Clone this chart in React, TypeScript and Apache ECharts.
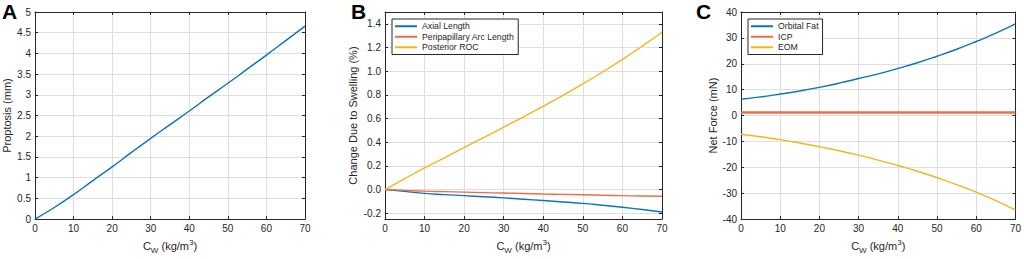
import React, { useEffect, useRef } from "react";
import * as echarts from "echarts";

const cw = [0, 5, 10, 15, 20, 25, 30, 35, 40, 45, 50, 55, 60, 65, 70];
const proptosis = [0, 0.28, 0.59, 0.93, 1.26, 1.61, 1.95, 2.28, 2.61, 2.95, 3.28, 3.62, 3.96, 4.31, 4.66];

const axialLength = [0, -0.016, -0.033, -0.043, -0.052, -0.061, -0.071, -0.082, -0.093, -0.105, -0.117, -0.133, -0.15, -0.169, -0.19];
const peripapillary = [0, -0.007, -0.014, -0.018, -0.022, -0.026, -0.03, -0.034, -0.038, -0.041, -0.044, -0.048, -0.052, -0.055, -0.057];
const posteriorROC = [0, 0.092, 0.183, 0.268, 0.355, 0.44, 0.527, 0.614, 0.704, 0.796, 0.892, 0.993, 1.1, 1.212, 1.329];

const orbitalFat = [6.3, 7.2, 8.3, 9.5, 10.9, 12.5, 14.3, 16.1, 18.2, 20.4, 22.9, 25.6, 28.6, 31.8, 35.4];
const icp = [1.2, 1.2, 1.2, 1.2, 1.2, 1.2, 1.2, 1.2, 1.2, 1.2, 1.2, 1.2, 1.2, 1.2, 1.2];
const eom = [-7.2, -8.2, -9.3, -10.6, -12.0, -13.6, -15.3, -17.2, -19.3, -21.5, -24.0, -26.7, -29.6, -32.9, -36.5];

const bTicks = [-0.2, 0, 0.2, 0.4, 0.6, 0.8, 1.0, 1.2, 1.4];

const pair = (ys: number[]) => cw.map((x, i) => [x, ys[i]]);

const AX = "#262626";
const GRIDC = "#dedede";
const FONT = "Liberation Sans, Arial, sans-serif";
const BLUE = "#0b74bd";
const RED = "#f06d45";
const YEL = "#f5b41c";

const axisLineStyle = { show: true, onZero: false, lineStyle: { color: AX, width: 1 } };

const xName = {
  name: "{n|C}{sub|W}{n| (kg/m}{sup|3}{n|)}",
  nameLocation: "middle" as const,
  nameGap: 11,
  nameTextStyle: {
    rich: {
      n: { fontSize: 11, fontFamily: FONT, color: AX, lineHeight: 16, verticalAlign: "middle" },
      sub: { fontSize: 8, fontFamily: FONT, color: AX, lineHeight: 16, verticalAlign: "bottom", padding: [6, 0, 0, 0] },
      sup: { fontSize: 8, fontFamily: FONT, color: AX, lineHeight: 16, verticalAlign: "top", padding: [0, 0, 6, 0] },
    },
  },
};

function mainX(gridIndex: number) {
  return {
    type: "value",
    gridIndex,
    min: 0,
    max: 70,
    interval: 10,
    ...xName,
    axisLine: axisLineStyle,
    axisTick: { show: true, inside: true, length: 3, lineStyle: { color: AX } },
    axisLabel: { color: AX, fontSize: 10, fontFamily: FONT, margin: 4 },
    splitLine: { show: true, lineStyle: { color: GRIDC, width: 1 } },
  };
}
function topX(gridIndex: number) {
  return {
    type: "value",
    gridIndex,
    position: "top",
    min: 0,
    max: 70,
    interval: 10,
    axisLine: axisLineStyle,
    axisTick: { show: true, inside: true, length: 3, lineStyle: { color: AX } },
    axisLabel: { show: false },
    splitLine: { show: false },
  };
}
function leftY(gridIndex: number, extra: any, name: string, nameGap: number) {
  return {
    type: "value",
    gridIndex,
    name,
    nameLocation: "middle",
    nameGap,
    nameTextStyle: { fontSize: 11, fontFamily: FONT, color: AX },
    min: extra.min,
    max: extra.max,
    interval: extra.interval,
    axisLine: axisLineStyle,
    axisTick: { show: true, inside: true, length: 3, lineStyle: { color: AX }, ...(extra.axisTickExtra || {}) },
    axisLabel: { color: AX, fontSize: 10, fontFamily: FONT, margin: 4, ...(extra.axisLabelExtra || {}) },
    splitLine: { show: true, lineStyle: { color: GRIDC, width: 1 } },
  };
}
function rightY(gridIndex: number, extra: any) {
  return {
    type: "value",
    gridIndex,
    position: "right",
    axisLine: axisLineStyle,
    axisTick: { show: true, inside: true, length: 3, lineStyle: { color: AX }, ...(extra.axisTickExtra || {}) },
    axisLabel: { show: false },
    splitLine: { show: false },
    min: extra.min,
    max: extra.max,
    interval: extra.interval,
  };
}

function line(name: string, data: number[], xi: number, yi: number, color: string, width = 1.4) {
  return {
    type: "line",
    name,
    xAxisIndex: xi,
    yAxisIndex: yi,
    data: pair(data),
    showSymbol: false,
    symbol: "none",
    smooth: true,
    lineStyle: { color, width },
    itemStyle: { color },
    z: 3,
  };
}

const legendBase = {
  orient: "vertical",
  icon: "rect",
  itemWidth: 22,
  itemHeight: 2,
  itemGap: 0,
  padding: [2, 4, 2, 3],
  borderColor: AX,
  borderWidth: 1,
  backgroundColor: "#fff",
  textStyle: { fontSize: 8.7, fontFamily: FONT, color: AX, lineHeight: 10.5 },
};

export default function App() {
  const ref = useRef<HTMLDivElement>(null);
  useEffect(() => {
    if (!ref.current) return;
    const chart = echarts.init(ref.current, undefined, { renderer: "svg" });
    const bExtra = {
      min: -0.25,
      max: 1.5,
      axisLabelExtra: { customValues: bTicks, formatter: (v: number) => v.toFixed(1) },
      axisTickExtra: { customValues: bTicks },
    };
    const option: any = {
      animation: false,
      backgroundColor: "#fff",
      grid: [
        { left: 29, top: 12, width: 276, height: 214 },
        { left: 385, top: 12, width: 277, height: 214 },
        { left: 741, top: 12, width: 277, height: 214 },
      ],
      xAxis: [mainX(0), topX(0), mainX(1), topX(1), mainX(2), topX(2)],
      yAxis: [
        leftY(0, { min: 0, max: 5, interval: 0.5 }, "Proptosis (mm)", 23),
        rightY(0, { min: 0, max: 5, interval: 0.5 }),
        leftY(1, bExtra, "Change Due to Swelling (%)", 27),
        rightY(1, bExtra),
        leftY(2, { min: -40, max: 40, interval: 10 }, "Net Force (mN)", 23),
        rightY(2, { min: -40, max: 40, interval: 10 }),
      ],
      legend: [
        {
          ...legendBase,
          left: 392,
          top: 19,
          data: ["Axial Length", "Peripapillary Arc Length", "Posterior ROC"],
        },
        {
          ...legendBase,
          left: 748,
          top: 19,
          data: ["Orbital Fat", "ICP", "EOM"],
        },
      ],
      series: [
        line("Proptosis", proptosis, 0, 0, BLUE),
        line("Axial Length", axialLength, 2, 2, BLUE),
        line("Peripapillary Arc Length", peripapillary, 2, 2, RED),
        line("Posterior ROC", posteriorROC, 2, 2, YEL),
        line("Orbital Fat", orbitalFat, 4, 4, BLUE),
        line("ICP", icp, 4, 4, RED, 2.5),
        line("EOM", eom, 4, 4, YEL),
      ],
      graphic: [
        { type: "text", left: 2, top: 1, style: { text: "A", font: "bold 21px " + FONT, fill: "#000" } },
        { type: "text", left: 351, top: 1, style: { text: "B", font: "bold 21px " + FONT, fill: "#000" } },
        { type: "text", left: 696, top: 1, style: { text: "C", font: "bold 21px " + FONT, fill: "#000" } },
      ],
    };
    chart.setOption(option);
    return () => chart.dispose();
  }, []);
  return (
    <div
      ref={ref}
      style={{ position: "fixed", left: 0, top: 0, width: 1024, height: 259, background: "#fff" }}
    />
  );
}
